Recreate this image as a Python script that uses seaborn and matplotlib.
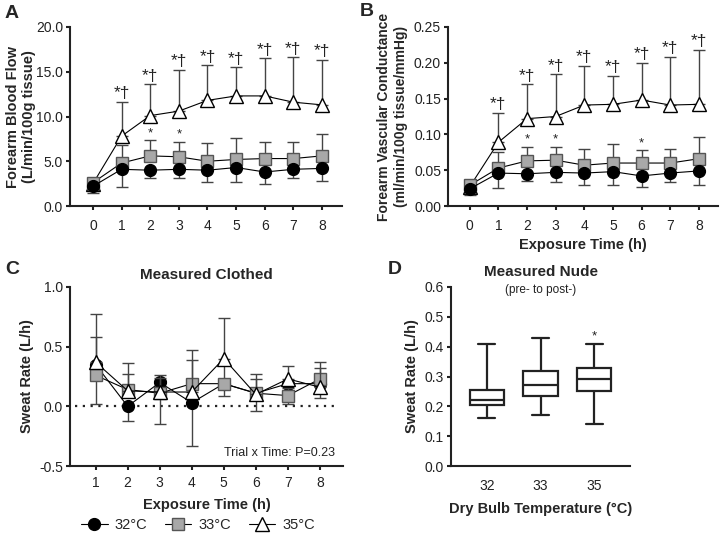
import numpy as np
import pandas as pd
import seaborn as sns
import matplotlib.pyplot as plt
from matplotlib.ticker import FormatStrFormatter
from matplotlib.lines import Line2D

# data
hours_ab = list(range(9))
hours_c = list(range(1, 9))
trials = ['32°C', '33°C', '35°C']

# A: forearm blood flow (mean, sd)
fbf_32 = [2.2, 4.1, 4.0, 4.1, 4.0, 4.3, 3.8, 4.1, 4.2]
fbf_32_sd = [0.8, 2.0, 0.9, 1.0, 1.3, 1.6, 1.3, 1.0, 1.4]
fbf_33 = [2.6, 4.8, 5.6, 5.5, 5.0, 5.2, 5.3, 5.3, 5.6]
fbf_33_sd = [0.5, 2.0, 1.8, 1.7, 2.0, 2.4, 1.9, 1.8, 2.4]
fbf_35 = [2.5, 7.8, 10.1, 10.6, 11.8, 12.3, 12.3, 11.6, 11.3]
fbf_35_sd = [0.6, 3.8, 3.5, 4.6, 3.9, 3.2, 4.2, 5.0, 5.0]
fbf_star_33 = [2, 3]

# B: forearm vascular conductance
fvc_32 = [0.024, 0.046, 0.045, 0.047, 0.046, 0.048, 0.042, 0.046, 0.049]
fvc_32_sd = [0.009, 0.021, 0.010, 0.014, 0.016, 0.018, 0.016, 0.012, 0.020]
fvc_33 = [0.029, 0.053, 0.063, 0.064, 0.057, 0.060, 0.060, 0.060, 0.066]
fvc_33_sd = [0.004, 0.023, 0.020, 0.019, 0.022, 0.027, 0.018, 0.020, 0.031]
fvc_35 = [0.027, 0.089, 0.122, 0.125, 0.141, 0.142, 0.148, 0.141, 0.142]
fvc_35_sd = [0.003, 0.041, 0.048, 0.059, 0.055, 0.040, 0.052, 0.067, 0.076]
fvc_star_33 = [2, 3, 6]

# C: sweat rate, measured clothed
sr_32 = [0.35, 0.00, 0.20, 0.03, 0.19, 0.11, 0.19, 0.19]
sr_32_sd = [0.33, 0.12, 0.35, 0.36, 0.10, 0.15, 0.17, 0.12]
sr_33 = [0.26, 0.14, 0.11, 0.19, 0.19, 0.11, 0.09, 0.23]
sr_33_sd = [0.32, 0.22, 0.15, 0.28, 0.16, 0.16, 0.06, 0.14]
sr_35 = [0.37, 0.13, 0.12, 0.12, 0.40, 0.10, 0.23, 0.16]
sr_35_sd = [0.40, 0.14, 0.12, 0.27, 0.34, 0.13, 0.11, 0.16]

# D: sweat rate, measured nude (min, q1, median, q3, max)
temps_d = ['32', '33', '35']
box_32 = [0.16, 0.203, 0.22, 0.256, 0.41]
box_33 = [0.17, 0.233, 0.27, 0.318, 0.43]
box_35 = [0.14, 0.253, 0.29, 0.327, 0.41]

sns.set_theme(style='ticks')
plt.rcParams['font.family'] = ['Liberation Sans', 'DejaVu Sans']
plt.rcParams['axes.unicode_minus'] = False
plt.rcParams['axes.linewidth'] = 1.5
plt.rcParams['xtick.major.width'] = 1.5
plt.rcParams['ytick.major.width'] = 1.5
plt.rcParams['xtick.major.size'] = 3
plt.rcParams['ytick.major.size'] = 3
plt.rcParams['xtick.labelsize'] = 10
plt.rcParams['ytick.labelsize'] = 10
plt.rcParams['xtick.color'] = '#222222'
plt.rcParams['ytick.color'] = '#222222'
plt.rcParams['axes.edgecolor'] = '#222222'

styles = {
    '32°C': dict(marker='o', markerfacecolor='black', markeredgecolor='black', markersize=8.5, z=5, down=True),
    '33°C': dict(marker='s', markerfacecolor='#a8a8a8', markeredgecolor='#555555', markersize=8, z=4, down=False),
    '35°C': dict(marker='^', markerfacecolor='white', markeredgecolor='black', markersize=9.5, z=3, down=False),
}

fig = plt.figure(figsize=(7.2, 5.34), dpi=100)
W, H = 720, 534


def add_ax(l, r, t, b):
    return fig.add_axes([l / W, 1 - b / H, (r - l) / W, (b - t) / H])


def draw_series(ax, x, y, sd, name, zorder=None):
    st = styles[name]
    z = st['z'] if zorder is None else zorder
    y = np.array(y)
    sd = np.array(sd)
    if st['down']:
        yerr = [sd, np.zeros_like(sd)]
    else:
        yerr = [np.zeros_like(sd), sd]
    ax.errorbar(x, y, yerr=yerr, fmt='none', ecolor='#444444', elinewidth=1.0,
                capsize=4, capthick=1.0, zorder=z - 0.5)
    sns.lineplot(x=x, y=y, ax=ax, color='black', lw=0.8, marker=st['marker'],
                 markerfacecolor=st['markerfacecolor'], markeredgecolor=st['markeredgecolor'],
                 markeredgewidth=1.0, markersize=st['markersize'], zorder=z, label=name,
                 legend=False)


def stars(ax, x, y, sd, idx, text, size):
    for i in idx:
        ax.annotate(text, (x[i], y[i] + sd[i]), xytext=(0, 0.5), textcoords='offset points',
                    ha='center', va='bottom', fontsize=size, color='#222222')


def style_ax(ax):
    sns.despine(ax=ax)
    ax.tick_params(direction='out', pad=2)


# Panel A
axA = add_ax(70, 342, 27, 206)
draw_series(axA, hours_ab, fbf_35, fbf_35_sd, '35°C')
draw_series(axA, hours_ab, fbf_33, fbf_33_sd, '33°C')
draw_series(axA, hours_ab, fbf_32, fbf_32_sd, '32°C')
stars(axA, hours_ab, fbf_35, fbf_35_sd, range(1, 9), '*†', 12.5)
stars(axA, hours_ab, fbf_33, fbf_33_sd, fbf_star_33, '*', 9.5)
axA.set_xlim(-0.8, 8.7)
axA.set_ylim(0, 20)
axA.set_xticks(hours_ab)
axA.set_yticks([0, 5, 10, 15, 20])
axA.yaxis.set_major_formatter(FormatStrFormatter('%.1f'))
axA.set_xlabel('')
axA.set_ylabel('Forearm Blood Flow\n(L/min/100g tissue)', fontsize=10.5, fontweight='bold')
axA.yaxis.set_label_coords(-0.125, 0.5)
style_ax(axA)
axA.tick_params(axis='x', pad=6)

# Panel B
axB = add_ax(448, 718, 27, 206)
draw_series(axB, hours_ab, fvc_35, fvc_35_sd, '35°C')
draw_series(axB, hours_ab, fvc_33, fvc_33_sd, '33°C')
draw_series(axB, hours_ab, fvc_32, fvc_32_sd, '32°C')
stars(axB, hours_ab, fvc_35, fvc_35_sd, range(1, 9), '*†', 12.5)
stars(axB, hours_ab, fvc_33, fvc_33_sd, fvc_star_33, '*', 9.5)
axB.set_xlim(-0.76, 8.67)
axB.set_ylim(0, 0.25)
axB.set_xticks(hours_ab)
axB.set_yticks([0, 0.05, 0.10, 0.15, 0.20, 0.25])
axB.yaxis.set_major_formatter(FormatStrFormatter('%.2f'))
axB.set_xlabel('Exposure Time (h)', fontsize=10.5, fontweight='bold', labelpad=4)
axB.set_ylabel('Forearm Vascular Conductance\n(ml/min/100g tissue/mmHg)', fontsize=10,
               fontweight='bold')
axB.yaxis.set_label_coords(-0.15, 0.5)
style_ax(axB)
axB.tick_params(axis='x', pad=6)

# Panel C
axC = add_ax(70, 343, 287, 466)
axC.axhline(0, color='#222222', ls=(0, (1, 2.5)), lw=1.6, xmin=0.02, xmax=0.98, zorder=1)
draw_series(axC, hours_c, sr_32, sr_32_sd, '32°C', zorder=3)
draw_series(axC, hours_c, sr_33, sr_33_sd, '33°C', zorder=4)
draw_series(axC, hours_c, sr_35, sr_35_sd, '35°C', zorder=5)
axC.set_xlim(0.2, 8.72)
axC.set_ylim(-0.5, 1.0)
axC.set_xticks(hours_c)
axC.set_yticks([-0.5, 0, 0.5, 1.0])
axC.yaxis.set_major_formatter(FormatStrFormatter('%.1f'))
axC.set_xlabel('Exposure Time (h)', fontsize=10.5, fontweight='bold', labelpad=6)
axC.set_ylabel('Sweat Rate (L/h)', fontsize=10.5, fontweight='bold', labelpad=4)
axC.set_title('Measured Clothed', fontsize=11, fontweight='bold', pad=6)
axC.text(0.97, 0.075, 'Trial x Time: P=0.23', transform=axC.transAxes, ha='right',
         va='center', fontsize=9, color='#222222')
style_ax(axC)
axC.tick_params(axis='x', pad=4)

handles = []
for name in trials:
    st = styles[name]
    handles.append(Line2D([0], [0], color='black', lw=0.8, marker=st['marker'],
                          markerfacecolor=st['markerfacecolor'],
                          markeredgecolor=st['markeredgecolor'], markersize=st['markersize']))
fig.legend(handles, trials, loc='center', bbox_to_anchor=(198 / W, 1 - 525 / H), ncol=3,
           frameon=False, fontsize=10.5, handlelength=1.8, columnspacing=1.2, handletextpad=0.5)

# Panel D
axD = add_ax(451, 630, 287, 466)
box_df = pd.DataFrame({
    'temp': np.repeat(temps_d, 5),
    'rate': box_32 + box_33 + box_35,
})
sns.boxplot(data=box_df, x='temp', y='rate', order=temps_d, ax=axD, whis=(0, 100),
            width=0.64, color='white', linecolor='#222222', linewidth=1.6)
axD.annotate('*', (2, box_35[-1]), xytext=(0, 1), textcoords='offset points', ha='center',
             va='bottom', fontsize=9.5, color='#222222')
axD.set_xlim(-0.67, 2.67)
axD.set_ylim(0, 0.6)
axD.set_yticks([0, 0.1, 0.2, 0.3, 0.4, 0.5, 0.6])
axD.yaxis.set_major_formatter(FormatStrFormatter('%.1f'))
axD.set_xlabel('Dry Bulb Temperature (°C)', fontsize=10.5, fontweight='bold', labelpad=7)
axD.set_ylabel('Sweat Rate (L/h)', fontsize=10.5, fontweight='bold', labelpad=4)
axD.set_title('Measured Nude', fontsize=11, fontweight='bold', pad=8)
axD.text(0.5, 0.985, '(pre- to post-)', transform=axD.transAxes, ha='center', va='center',
         fontsize=8.5, color='#222222')
style_ax(axD)
axD.tick_params(axis='x', length=0, pad=9)

# panel letters
for letter, x, y in [('A', 5, 13), ('B', 360, 12), ('C', 5, 270), ('D', 388, 270)]:
    fig.text(x / W, 1 - y / H, letter, fontsize=14, fontweight='bold', va='center', ha='left')

fig.savefig('out.png', dpi=100)
